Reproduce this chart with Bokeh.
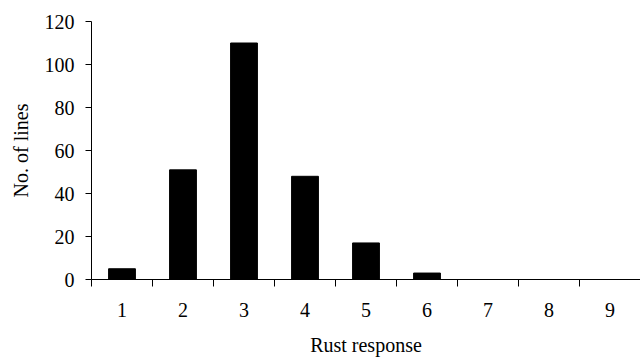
from bokeh.plotting import figure
from bokeh.models import FixedTicker, Range1d, ColumnDataSource
from bokeh.embed import file_html
from bokeh.resources import INLINE

categories = [1, 2, 3, 4, 5, 6, 7, 8, 9]
lines_count = [5, 51, 110, 48, 17, 3, 0, 0, 0]
y_ticks = [0, 20, 40, 60, 80, 100, 120]
x_title = "Rust response"
y_title = "No. of lines"

src = ColumnDataSource(data=dict(x=categories, top=lines_count))

p = figure(width=640, height=358, output_backend="svg", toolbar_location=None,
           x_range=Range1d(0.5, 9.5), y_range=Range1d(0, 120),
           min_border_left=91, min_border_right=0, min_border_top=21, min_border_bottom=78)

p.vbar(x="x", top="top", width=0.44, source=src, fill_color="#000000", line_color="#000000")

FONT = "Liberation Serif"
p.xgrid.visible = False
p.ygrid.visible = False
p.outline_line_color = None
p.background_fill_color = "white"
p.border_fill_color = "white"

xa = p.xaxis[0]
xa.ticker = FixedTicker(ticks=categories, minor_ticks=[c - 0.5 for c in categories] + [9.5])
xa.major_tick_out = 0
xa.major_tick_in = 0
xa.minor_tick_out = 7
xa.minor_tick_in = 0
xa.minor_tick_line_color = "black"
xa.axis_line_color = "black"
xa.major_label_text_font = FONT
xa.major_label_text_font_size = "20px"
xa.major_label_text_color = "black"
xa.major_label_standoff = 16
xa.axis_label = x_title
xa.axis_label_text_font = FONT
xa.axis_label_text_font_size = "20px"
xa.axis_label_text_font_style = "normal"
xa.axis_label_text_color = "black"
xa.axis_label_standoff = 14

ya = p.yaxis[0]
ya.ticker = FixedTicker(ticks=y_ticks)
ya.minor_tick_line_color = None
ya.major_tick_out = 6
ya.major_tick_in = 0
ya.major_tick_line_color = "black"
ya.axis_line_color = "black"
ya.major_label_text_font = FONT
ya.major_label_text_font_size = "20px"
ya.major_label_text_color = "black"
ya.major_label_standoff = 11
ya.axis_label = y_title
ya.axis_label_text_font = FONT
ya.axis_label_text_font_size = "20px"
ya.axis_label_text_font_style = "normal"
ya.axis_label_text_color = "black"
ya.axis_label_standoff = 10

open("out.html", "w").write(file_html(p, INLINE))
